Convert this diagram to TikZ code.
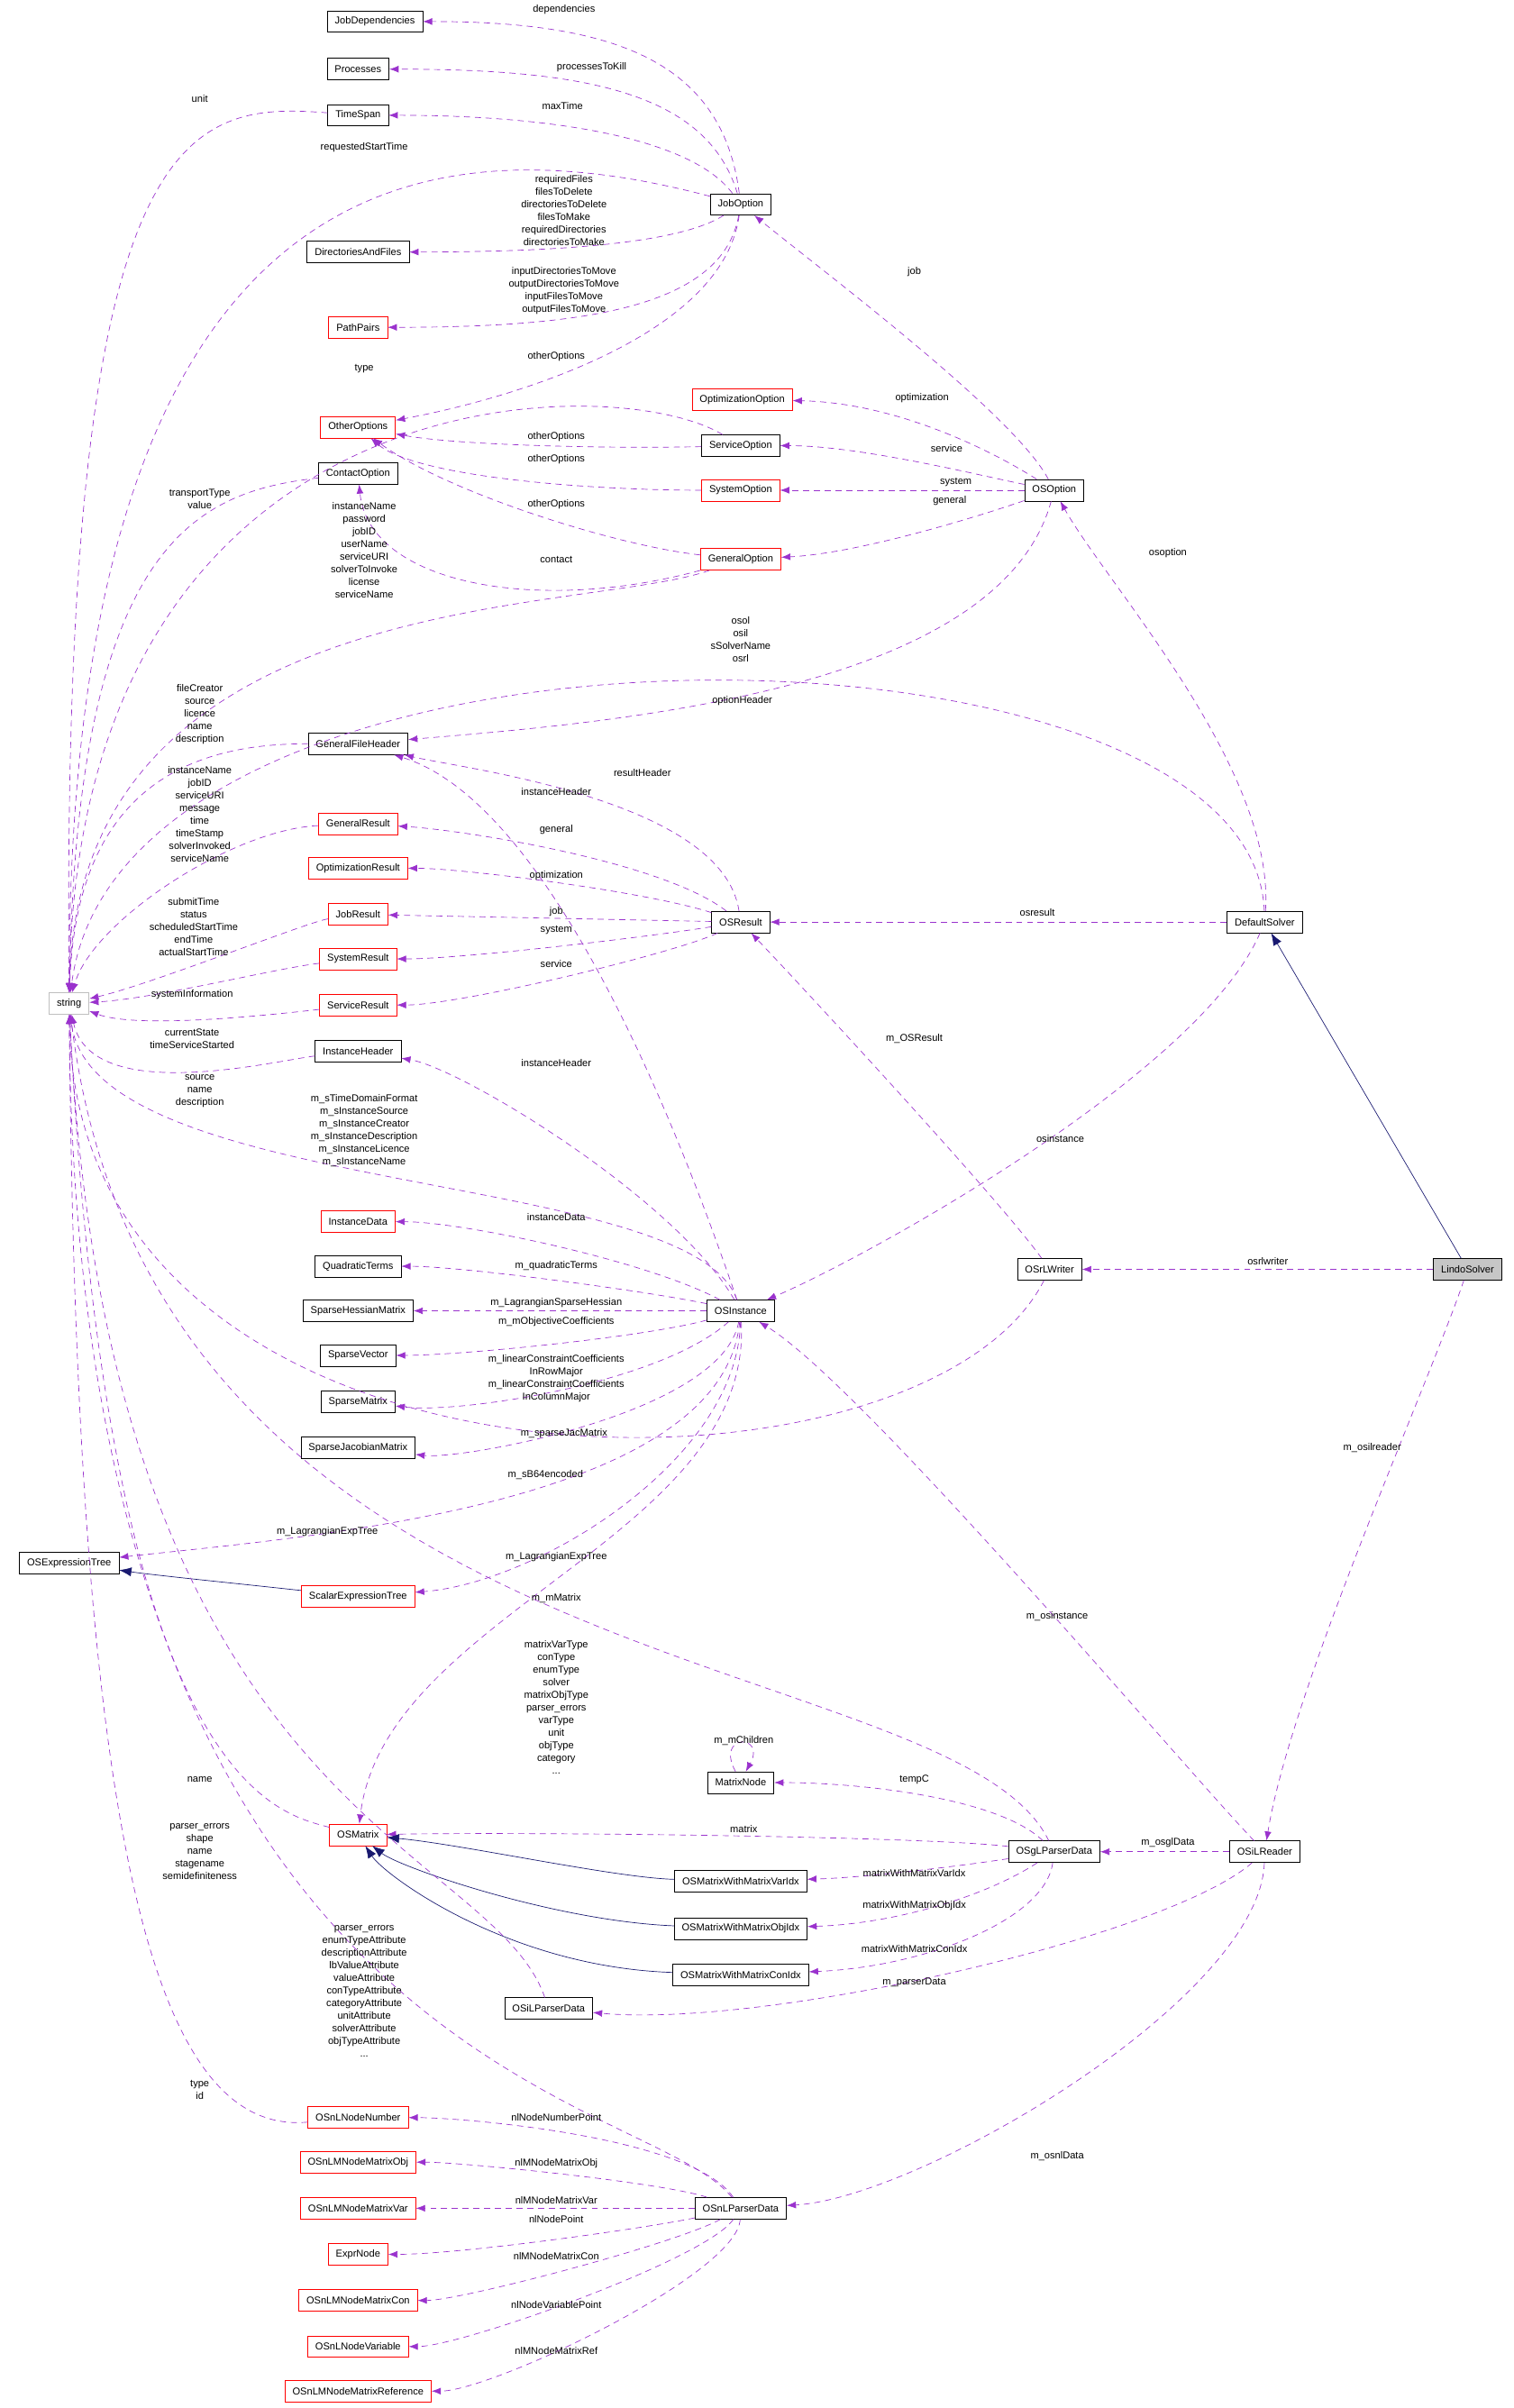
\documentclass[tikz,border=0pt]{standalone}
\usepackage{fontspec}
\setmainfont{Liberation Sans}
\usetikzlibrary{arrows.meta}
\definecolor{depcol}{HTML}{9A32CD}
\definecolor{inhcol}{HTML}{191970}
\tikzset{
  cls/.style={draw, fill=white, minimum height=14pt, inner xsep=5pt, inner ysep=1pt, font=\fontsize{6.5}{7}\selectfont},
  redcls/.style={cls, draw=red},
  dep/.style={draw=depcol, dash pattern=on 4pt off 3pt, -{Latex[length=6pt,width=4.5pt]}},
  inh/.style={draw=inhcol, -{Latex[length=8pt,width=6pt]}},
  lbl/.style={font=\fontsize{6.5}{8.2}\selectfont, align=center, inner sep=0pt}
}
\begin{document}
\begin{tikzpicture}[x=1pt,y=-1pt]
    \useasboundingbox (0,0) rectangle (985,1567);
    % Classes
    \node[cls] (JobDependencies) at (244,14) {JobDependencies};
    \node[cls] (Processes) at (233,45) {Processes};
    \node[cls] (TimeSpan) at (233,75) {TimeSpan};
    \node[cls] (JobOption) at (482,133) {JobOption};
    \node[cls] (DirectoriesAndFiles) at (233,164) {DirectoriesAndFiles};
    \node[redcls] (PathPairs) at (233,213) {PathPairs};
    \node[redcls] (OtherOptions) at (233,278) {OtherOptions};
    \node[redcls] (OptimizationOption) at (483,260) {OptimizationOption};
    \node[cls] (ServiceOption) at (482,290) {ServiceOption};
    \node[redcls] (SystemOption) at (482,319) {SystemOption};
    \node[cls] (OSOption) at (686,319) {OSOption};
    \node[cls] (ContactOption) at (233,308) {ContactOption};
    \node[redcls] (GeneralOption) at (482,364) {GeneralOption};
    \node[cls] (GeneralFileHeader) at (233,484) {GeneralFileHeader};
    \node[redcls] (GeneralResult) at (233,536) {GeneralResult};
    \node[redcls] (OptimizationResult) at (233,565) {OptimizationResult};
    \node[redcls] (JobResult) at (233,595) {JobResult};
    \node[cls] (OSResult) at (482,600) {OSResult};
    \node[cls] (DefaultSolver) at (823,600) {DefaultSolver};
    \node[redcls] (SystemResult) at (233,624) {SystemResult};
    \node[redcls] (ServiceResult) at (233,654) {ServiceResult};
    \node[cls, draw=gray!50] (string) at (45,653) {string};
    \node[cls] (InstanceHeader) at (233,684) {InstanceHeader};
    \node[redcls] (InstanceData) at (233,795) {InstanceData};
    \node[cls] (QuadraticTerms) at (233,824) {QuadraticTerms};
    \node[cls] (OSrLWriter) at (683,826) {OSrLWriter};
    \node[cls, fill=gray!45] (LindoSolver) at (955,826) {LindoSolver};
    \node[cls] (SparseHessianMatrix) at (233,853) {SparseHessianMatrix};
    \node[cls] (OSInstance) at (482,853) {OSInstance};
    \node[cls] (SparseVector) at (233,882) {SparseVector};
    \node[cls] (SparseMatrix) at (233,912) {SparseMatrix};
    \node[cls] (SparseJacobianMatrix) at (233,942) {SparseJacobianMatrix};
    \node[cls] (OSExpressionTree) at (45,1017) {OSExpressionTree};
    \node[redcls] (ScalarExpressionTree) at (233,1039) {ScalarExpressionTree};
    \node[cls] (MatrixNode) at (482,1160) {MatrixNode};
    \node[redcls] (OSMatrix) at (233,1194) {OSMatrix};
    \node[cls] (OSgLParserData) at (686,1205) {OSgLParserData};
    \node[cls] (OSiLReader) at (823,1205) {OSiLReader};
    \node[cls] (VarIdx) at (482,1224) {OSMatrixWithMatrixVarIdx};
    \node[cls] (ObjIdx) at (482,1255) {OSMatrixWithMatrixObjIdx};
    \node[cls] (ConIdx) at (482,1285) {OSMatrixWithMatrixConIdx};
    \node[cls] (OSiLParserData) at (357,1307) {OSiLParserData};
    \node[redcls] (OSnLNodeNumber) at (233,1378) {OSnLNodeNumber};
    \node[redcls] (OSnLMNodeMatrixObj) at (233,1407) {OSnLMNodeMatrixObj};
    \node[redcls] (OSnLMNodeMatrixVar) at (233,1437) {OSnLMNodeMatrixVar};
    \node[cls] (OSnLParserData) at (482,1437) {OSnLParserData};
    \node[redcls] (ExprNode) at (233,1467) {ExprNode};
    \node[redcls] (OSnLMNodeMatrixCon) at (233,1497) {OSnLMNodeMatrixCon};
    \node[redcls] (OSnLNodeVariable) at (233,1527) {OSnLNodeVariable};
    \node[redcls] (OSnLMNodeMatrixRef) at (233,1556) {OSnLMNodeMatrixReference};

    % JobOption
    \draw[dep] (JobOption) .. controls (470,40) and (400,14) .. (JobDependencies);
    \draw[dep] (JobOption) .. controls (460,60) and (380,45) .. (Processes);
    \draw[dep] (JobOption) .. controls (450,90) and (360,75) .. (TimeSpan);
    \draw[dep] (JobOption) .. controls (300,85) and (45,80) .. (string);
    \draw[dep] (TimeSpan) .. controls (120,66) and (40,80) .. (string);
    \draw[dep] (JobOption) .. controls (440,160) and (350,164) .. (DirectoriesAndFiles);
    \draw[dep] (JobOption) .. controls (470,200) and (380,213) .. (PathPairs);
    \draw[dep] (JobOption) .. controls (470,220) and (330,260) .. (OtherOptions);
    \node[lbl] (lDep) at (367,6) {dependencies};
    \node[lbl] (lKill) at (385,44) {processesToKill};
    \node[lbl] (lMax) at (366,69) {maxTime};
    \node[lbl] (lReq) at (237,96) {requestedStartTime};
    \node[lbl] (lUnit) at (130,64) {unit};
    \node[lbl] (lDirs) at (367,137) {requiredFiles\\filesToDelete\\directoriesToDelete\\filesToMake\\requiredDirectories\\directoriesToMake};
    \node[lbl] (lPaths) at (367,189) {inputDirectoriesToMove\\outputDirectoriesToMove\\inputFilesToMove\\outputFilesToMove};
    \node[lbl] (lOther1) at (362,232) {otherOptions};

    % OSOption
    \draw[dep] (ServiceOption) .. controls (400,240) and (50,240) .. (string);
    \draw[dep] (ServiceOption) .. controls (400,292) and (300,290) .. (OtherOptions);
    \draw[dep] (SystemOption) .. controls (380,319) and (270,310) .. (OtherOptions);
    \draw[dep] (GeneralOption) .. controls (400,355) and (290,320) .. (OtherOptions);
    \draw[dep] (OSOption) .. controls (640,290) and (580,262) .. (OptimizationOption);
    \draw[dep] (OSOption) .. controls (640,310) and (560,290) .. (ServiceOption);
    \draw[dep] (OSOption) -- (SystemOption);
    \draw[dep] (OSOption) .. controls (640,335) and (560,360) .. (GeneralOption);
    \draw[dep] (OSOption) .. controls (660,270) and (540,180) .. (JobOption);
    \draw[dep] (ContactOption) .. controls (130,320) and (50,350) .. (string);
    \draw[dep] (GeneralOption) .. controls (350,400) and (240,380) .. (ContactOption);
    \draw[dep] (GeneralOption) .. controls (380,400) and (50,380) .. (string);
    \node[lbl] (lType) at (237,240) {type};
    \node[lbl] (lOther2) at (362,284) {otherOptions};
    \node[lbl] (lOther3) at (362,299) {otherOptions};
    \node[lbl] (lOther4) at (362,328) {otherOptions};
    \node[lbl] (lOptim) at (600,259) {optimization};
    \node[lbl] (lServ) at (616,292) {service};
    \node[lbl] (lSys) at (622,314) {system};
    \node[lbl] (lGen) at (618,326) {general};
    \node[lbl] (lJob) at (595,177) {job};
    \node[lbl] (lTrans) at (130,325) {transportType\\value};
    \node[lbl] (lContact) at (362,364) {contact};
    \node[lbl] (lGenStr) at (237,358) {instanceName\\password\\jobID\\userName\\serviceURI\\solverToInvoke\\license\\serviceName};

    % DefaultSolver
    \draw[dep] (DefaultSolver) .. controls (815,390) and (80,380) .. (string);
    \draw[dep] (DefaultSolver) .. controls (830,500) and (720,380) .. (OSOption);
    \draw[dep] (OSOption) .. controls (650,450) and (400,470) .. (GeneralFileHeader);
    \draw[dep] (GeneralFileHeader) .. controls (140,484) and (50,500) .. (string);
    \draw[dep] (DefaultSolver) -- (OSResult);
    \draw[dep] (DefaultSolver) .. controls (780,700) and (560,820) .. (OSInstance);
    \node[lbl] (lOsopt) at (760,360) {osoption};
    \node[lbl] (lOsol) at (482,416) {osol\\osil\\sSolverName\\osrl};
    \node[lbl] (lOptHdr) at (483,456) {optionHeader};
    \node[lbl] (lHdrStr) at (130,465) {fileCreator\\source\\licence\\name\\description};
    \node[lbl] (lOsres) at (675,594) {osresult};
    \node[lbl] (lOsinst) at (690,741) {osinstance};

    % OSResult
    \draw[dep] (OSResult) .. controls (470,520) and (300,500) .. (GeneralFileHeader);
    \draw[dep] (OSInstance) .. controls (430,700) and (350,520) .. (GeneralFileHeader);
    \draw[dep] (GeneralResult) .. controls (150,540) and (60,600) .. (string);
    \draw[dep] (OSResult) .. controls (430,560) and (300,540) .. (GeneralResult);
    \draw[dep] (OSResult) .. controls (420,580) and (300,565) .. (OptimizationResult);
    \draw[dep] (OSResult) -- (JobResult);
    \draw[dep] (OSResult) .. controls (420,610) and (300,624) .. (SystemResult);
    \draw[dep] (OSResult) .. controls (440,620) and (300,654) .. (ServiceResult);
    \draw[dep] (JobResult) .. controls (200,600) and (100,640) .. (string);
    \draw[dep] (SystemResult) .. controls (180,630) and (100,650) .. (string);
    \draw[dep] (ServiceResult) .. controls (180,660) and (90,670) .. (string);
    \draw[dep] (OSrLWriter) .. controls (650,780) and (520,640) .. (OSResult);
    \node[lbl] (lResHdr) at (418,503) {resultHeader};
    \node[lbl] (lInstHdr1) at (362,515) {instanceHeader};
    \node[lbl] (lResStr) at (130,530) {instanceName\\jobID\\serviceURI\\message\\time\\timeStamp\\solverInvoked\\serviceName};
    \node[lbl] (lGenRes) at (362,540) {general};
    \node[lbl] (lOptRes) at (362,570) {optimization};
    \node[lbl] (lJobRes) at (362,593) {job};
    \node[lbl] (lSysRes) at (362,605) {system};
    \node[lbl] (lServRes) at (362,627) {service};
    \node[lbl] (lJobStr) at (126,603) {submitTime\\status\\scheduledStartTime\\endTime\\actualStartTime};
    \node[lbl] (lSysInfo) at (125,647) {systemInformation};
    \node[lbl] (lServStr) at (125,676) {currentState\\timeServiceStarted};
    \node[lbl] (lOSRes) at (595,676) {m\_OSResult};

    % OSInstance
    \draw[dep] (InstanceHeader) .. controls (180,690) and (60,720) .. (string);
    \draw[dep] (OSInstance) .. controls (440,780) and (300,695) .. (InstanceHeader);
    \draw[dep] (OSInstance) .. controls (450,760) and (60,780) .. (string);
    \draw[dep] (OSInstance) .. controls (420,820) and (300,795) .. (InstanceData);
    \draw[dep] (OSInstance) .. controls (420,840) and (300,824) .. (QuadraticTerms);
    \draw[dep] (OSInstance) -- (SparseHessianMatrix);
    \draw[dep] (OSInstance) .. controls (420,870) and (300,882) .. (SparseVector);
    \draw[dep] (OSInstance) .. controls (430,900) and (300,920) .. (SparseMatrix);
    \draw[dep] (OSInstance) .. controls (470,920) and (300,950) .. (SparseJacobianMatrix);
    \draw[dep] (OSrLWriter) .. controls (600,990) and (50,990) .. (string);
    \draw[dep] (OSInstance) .. controls (470,980) and (200,1000) .. (OSExpressionTree);
    \draw[dep] (OSInstance) .. controls (480,950) and (350,1030) .. (ScalarExpressionTree);
    \draw[inh] (ScalarExpressionTree) .. controls (150,1030) and (100,1025) .. (OSExpressionTree);
    \draw[dep] (OSInstance) .. controls (490,1000) and (250,1050) .. (OSMatrix);
    \node[lbl] (lSrc) at (130,710) {source\\name\\description};
    \node[lbl] (lInstHdr2) at (362,692) {instanceHeader};
    \node[lbl] (lInstStr) at (237,736) {m\_sTimeDomainFormat\\m\_sInstanceSource\\m\_sInstanceCreator\\m\_sInstanceDescription\\m\_sInstanceLicence\\m\_sInstanceName};
    \node[lbl] (lInstData) at (362,792) {instanceData};
    \node[lbl] (lQuad) at (362,824) {m\_quadraticTerms};
    \node[lbl] (lHess) at (362,848) {m\_LagrangianSparseHessian};
    \node[lbl] (lObjCoef) at (362,860) {m\_mObjectiveCoefficients};
    \node[lbl] (lLinCoef) at (362,897) {m\_linearConstraintCoefficients\\InRowMajor\\m\_linearConstraintCoefficients\\InColumnMajor};
    \node[lbl] (lJac) at (367,933) {m\_sparseJacMatrix};
    \node[lbl] (lB64) at (355,960) {m\_sB64encoded};
    \node[lbl] (lExp1) at (213,997) {m\_LagrangianExpTree};
    \node[lbl] (lExp2) at (362,1013) {m\_LagrangianExpTree};
    \node[lbl] (lMat) at (362,1040) {m\_mMatrix};

    % LindoSolver
    \draw[inh] (LindoSolver) -- (DefaultSolver);
    \draw[dep] (LindoSolver) -- (OSrLWriter);
    \draw[dep] (LindoSolver) .. controls (930,900) and (840,1100) .. (OSiLReader);
    \node[lbl] (lRlw) at (825,821) {osrlwriter};
    \node[lbl] (lIlr) at (893,942) {m\_osilreader};

    % OSiLReader and parser data
    \draw[dep] (OSgLParserData) .. controls (620,1070) and (100,1100) .. (string);
    \draw[dep] (MatrixNode.115) .. controls (465,1128) and (499,1128) .. (MatrixNode.65);
    \draw[dep] (OSgLParserData) .. controls (650,1170) and (560,1160) .. (MatrixNode);
    \draw[dep] (OSMatrix) .. controls (180,1180) and (70,1160) .. (string);
    \draw[dep] (OSgLParserData) .. controls (600,1195) and (350,1192) .. (OSMatrix);
    \draw[inh] (VarIdx) .. controls (400,1222) and (300,1200) .. (OSMatrix);
    \draw[inh] (ObjIdx) .. controls (360,1250) and (260,1215) .. (OSMatrix);
    \draw[inh] (ConIdx) .. controls (330,1280) and (250,1220) .. (OSMatrix);
    \draw[dep] (OSgLParserData) .. controls (620,1215) and (560,1222) .. (VarIdx);
    \draw[dep] (OSgLParserData) .. controls (640,1235) and (580,1252) .. (ObjIdx);
    \draw[dep] (OSgLParserData) .. controls (680,1250) and (600,1280) .. (ConIdx);
    \draw[dep] (OSiLReader) -- (OSgLParserData);
    \draw[dep] (OSiLReader) .. controls (770,1150) and (560,900) .. (OSInstance);
    \draw[dep] (OSiLParserData) .. controls (320,1200) and (70,1180) .. (string);
    \draw[dep] (OSiLReader) .. controls (760,1260) and (500,1320) .. (OSiLParserData);
    \node[lbl] (lGlStr) at (362,1111) {matrixVarType\\conType\\enumType\\solver\\matrixObjType\\parser\_errors\\varType\\unit\\objType\\category\\...};
    \node[lbl] (lChildren) at (484,1133) {m\_mChildren};
    \node[lbl] (lTempC) at (595,1158) {tempC};
    \node[lbl] (lName) at (130,1158) {name};
    \node[lbl] (lMatrix) at (484,1190) {matrix};
    \node[lbl] (lVarIdx) at (595,1219) {matrixWithMatrixVarIdx};
    \node[lbl] (lObjIdx) at (595,1240) {matrixWithMatrixObjIdx};
    \node[lbl] (lConIdx) at (595,1268) {matrixWithMatrixConIdx};
    \node[lbl] (lGlData) at (760,1199) {m\_osglData};
    \node[lbl] (lOsinst2) at (688,1052) {m\_osinstance};
    \node[lbl] (lIlStr) at (130,1205) {parser\_errors\\shape\\name\\stagename\\semidefiniteness};
    \node[lbl] (lParser) at (595,1290) {m\_parserData};

    % OSnLParserData
    \draw[dep] (OSnLParserData) .. controls (420,1360) and (50,1350) .. (string);
    \draw[dep] (OSnLNodeNumber) .. controls (100,1390) and (50,1200) .. (string);
    \draw[dep] (OSiLReader) .. controls (820,1300) and (600,1430) .. (OSnLParserData);
    \draw[dep] (OSnLParserData) .. controls (450,1390) and (300,1378) .. (OSnLNodeNumber);
    \draw[dep] (OSnLParserData) .. controls (430,1420) and (300,1407) .. (OSnLMNodeMatrixObj);
    \draw[dep] (OSnLParserData) -- (OSnLMNodeMatrixVar);
    \draw[dep] (OSnLParserData) .. controls (420,1450) and (300,1467) .. (ExprNode);
    \draw[dep] (OSnLParserData) .. controls (440,1460) and (300,1497) .. (OSnLMNodeMatrixCon);
    \draw[dep] (OSnLParserData) .. controls (460,1470) and (300,1527) .. (OSnLNodeVariable);
    \draw[dep] (OSnLParserData) .. controls (480,1480) and (320,1556) .. (OSnLMNodeMatrixRef);
    \node[lbl] (lNlStr) at (237,1296) {parser\_errors\\enumTypeAttribute\\descriptionAttribute\\lbValueAttribute\\valueAttribute\\conTypeAttribute\\categoryAttribute\\unitAttribute\\solverAttribute\\objTypeAttribute\\...};
    \node[lbl] (lTypeId) at (130,1360) {type\\id};
    \node[lbl] (lNlData) at (688,1403) {m\_osnlData};
    \node[lbl] (lNum) at (362,1378) {nlNodeNumberPoint};
    \node[lbl] (lMObj) at (362,1408) {nlMNodeMatrixObj};
    \node[lbl] (lMVar) at (362,1432) {nlMNodeMatrixVar};
    \node[lbl] (lPoint) at (362,1444) {nlNodePoint};
    \node[lbl] (lMCon) at (362,1468) {nlMNodeMatrixCon};
    \node[lbl] (lVarP) at (362,1500) {nlNodeVariablePoint};
    \node[lbl] (lMRef) at (362,1530) {nlMNodeMatrixRef};
\end{tikzpicture}
\end{document}
